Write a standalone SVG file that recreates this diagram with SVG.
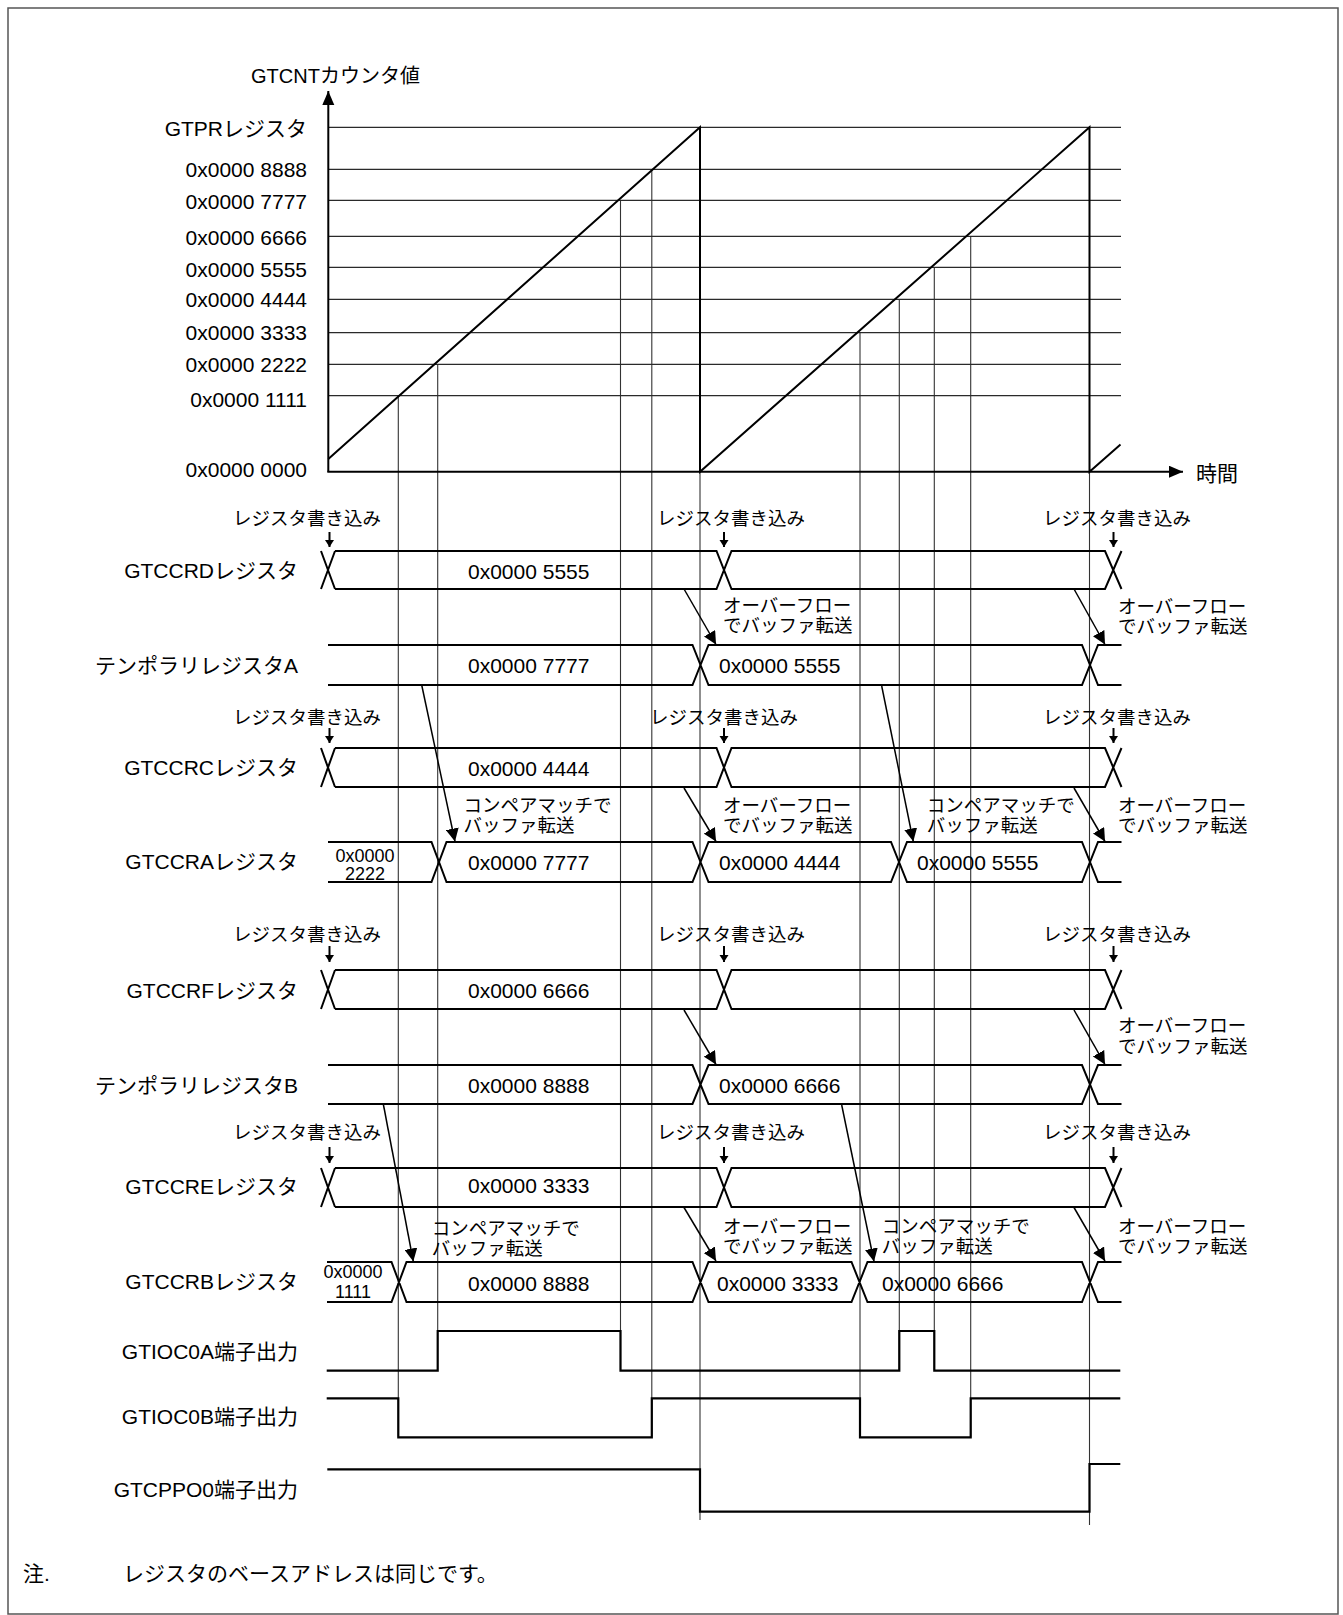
<svg xmlns="http://www.w3.org/2000/svg" width="1343" height="1615" viewBox="0 0 1343 1615">
<style>
text{font-family:"Liberation Sans","Noto Sans CJK JP",sans-serif;fill:#000}
.l{font-size:21px}
.t{font-size:20px}
.v{font-size:21px}
.s{font-size:18px}
.a{font-size:18.5px}
.end{text-anchor:end}
.mid{text-anchor:middle}
.bus{fill:none;stroke:#000;stroke-width:2}
.grid{stroke:#2a2a2a;stroke-width:1.3}
.guide{stroke:#333;stroke-width:1.1}
.ax{stroke:#000;stroke-width:2;fill:none}
.conn{stroke:#000;stroke-width:1.5;fill:none;marker-end:url(#ah)}
.wr{stroke:#000;stroke-width:2;fill:none;marker-end:url(#sh)}
.wave{fill:none;stroke:#000;stroke-width:2.2}
</style>
<defs>
<marker id="ah" markerUnits="userSpaceOnUse" markerWidth="13" markerHeight="13" refX="13" refY="6.5" orient="auto"><path d="M0,0 L13,6.5 L0,13 z" fill="#000"/></marker>
<marker id="sh" markerUnits="userSpaceOnUse" markerWidth="8" markerHeight="10" refX="7" refY="4.5" orient="auto"><path d="M0,0 L7,4.5 L0,9 z" fill="#000"/></marker>
<marker id="axh" markerUnits="userSpaceOnUse" markerWidth="15" markerHeight="13" refX="14" refY="6" orient="auto"><path d="M0,0 L14,6 L0,12 z" fill="#000"/></marker>
</defs>
<rect x="8" y="8" width="1330" height="1606" fill="#fff" stroke="#555" stroke-width="1.5"/>

<g id="guides">
<line class="guide" x1="398.3" y1="395.7" x2="398.3" y2="1437"/>
<line class="guide" x1="437.7" y1="364.3" x2="437.7" y2="1331"/>
<line class="guide" x1="620.5" y1="200.3" x2="620.5" y2="1370"/>
<line class="guide" x1="651.8" y1="169.3" x2="651.8" y2="1437"/>
<line class="guide" x1="860" y1="332.7" x2="860" y2="1437"/>
<line class="guide" x1="899.3" y1="299.3" x2="899.3" y2="1370"/>
<line class="guide" x1="934.3" y1="267.3" x2="934.3" y2="1370"/>
<line class="guide" x1="970.7" y1="236.3" x2="970.7" y2="1437"/>
<line class="guide" x1="700" y1="471.7" x2="700" y2="1520"/>
<line class="guide" x1="1089.5" y1="471.7" x2="1089.5" y2="1525"/>
</g>

<g id="chart">
<text class="t" x="251" y="82.5">GTCNTカウンタ値</text>
<text class="l" x="1196" y="481">時間</text>
<g class="grid">
<line x1="328" y1="127.3" x2="1121" y2="127.3"/>
<line x1="328" y1="169.3" x2="1121" y2="169.3"/>
<line x1="328" y1="200.3" x2="1121" y2="200.3"/>
<line x1="328" y1="236.3" x2="1121" y2="236.3"/>
<line x1="328" y1="267.3" x2="1121" y2="267.3"/>
<line x1="328" y1="299.3" x2="1121" y2="299.3"/>
<line x1="328" y1="332.7" x2="1121" y2="332.7"/>
<line x1="328" y1="364.3" x2="1121" y2="364.3"/>
<line x1="328" y1="395.7" x2="1121" y2="395.7"/>
</g>
<g class="l end">
<text x="307" y="135.5">GTPRレジスタ</text>
<text x="307" y="176.8">0x0000 8888</text>
<text x="307" y="208.5">0x0000 7777</text>
<text x="307" y="245">0x0000 6666</text>
<text x="307" y="276.5">0x0000 5555</text>
<text x="307" y="306.8">0x0000 4444</text>
<text x="307" y="339.5">0x0000 3333</text>
<text x="307" y="372.3">0x0000 2222</text>
<text x="307" y="406.5">0x0000 1111</text>
<text x="307" y="477">0x0000 0000</text>
</g>
<line class="ax" x1="328.3" y1="471.7" x2="328.3" y2="91" marker-end="url(#axh)"/>
<line class="ax" x1="327.3" y1="471.7" x2="1183" y2="471.7" marker-end="url(#axh)"/>
<path class="ax" d="M328.3,459 L700,127.3 L700,471.7 L1089.5,127.3 L1089.5,471.7 L1120.5,444.5"/>
</g>

<g id="row-gtccrd">
<text class="l end" x="298" y="578">GTCCRDレジスタ</text>
<path class="bus" d="M321,551 L335,589 M321,589 L335,551 M335,551 H716.5 L731.5,589 H1105 L1121.5,551 M335,589 H716.5 L731.5,551 H1105 L1121.5,589"/>
<text class="v" x="468" y="579">0x0000 5555</text>
</g>
<g id="row-tempa">
<text class="l end" x="298" y="672.5">テンポラリレジスタA</text>
<path class="bus" d="M328,645 H692.5 L708.5,685 H1082 L1098,645 H1121.5 M328,685 H692.5 L708.5,645 H1082 L1098,685 H1121.5"/>
<text class="v" x="468" y="672.5">0x0000 7777</text>
<text class="v" x="719" y="672.5">0x0000 5555</text>
</g>
<g id="row-gtccrc">
<text class="l end" x="298" y="775">GTCCRCレジスタ</text>
<path class="bus" d="M321,748 L335,787 M321,787 L335,748 M335,748 H716.5 L731.5,787 H1105 L1121.5,748 M335,787 H716.5 L731.5,748 H1105 L1121.5,787"/>
<text class="v" x="468" y="776">0x0000 4444</text>
</g>
<g id="row-gtccra">
<text class="l end" x="298" y="868.5">GTCCRAレジスタ</text>
<path class="bus" d="M328,842 H431.5 L446.5,882 H692.5 L708.5,842 H891 L907,882 H1082 L1098,842 H1121.5 M328,882 H431.5 L446.5,842 H692.5 L708.5,882 H891 L907,842 H1082 L1098,882 H1121.5"/>
<text class="s mid" x="365" y="861.5">0x0000</text>
<text class="s mid" x="365" y="879.5">2222</text>
<text class="v" x="468" y="870">0x0000 7777</text>
<text class="v" x="719" y="870">0x0000 4444</text>
<text class="v" x="917" y="870">0x0000 5555</text>
</g>
<g id="row-gtccrf">
<text class="l end" x="298" y="997.5">GTCCRFレジスタ</text>
<path class="bus" d="M321,970 L335,1009 M321,1009 L335,970 M335,970 H716.5 L731.5,1009 H1105 L1121.5,970 M335,1009 H716.5 L731.5,970 H1105 L1121.5,1009"/>
<text class="v" x="468" y="998">0x0000 6666</text>
</g>
<g id="row-tempb">
<text class="l end" x="298" y="1092.5">テンポラリレジスタB</text>
<path class="bus" d="M328,1065 H692.5 L708.5,1104 H1082 L1098,1065 H1121.5 M328,1104 H692.5 L708.5,1065 H1082 L1098,1104 H1121.5"/>
<text class="v" x="468" y="1092.5">0x0000 8888</text>
<text class="v" x="719" y="1092.5">0x0000 6666</text>
</g>
<g id="row-gtccre">
<text class="l end" x="298" y="1194">GTCCREレジスタ</text>
<path class="bus" d="M321,1168 L335,1207 M321,1207 L335,1168 M335,1168 H716.5 L731.5,1207 H1105 L1121.5,1168 M335,1207 H716.5 L731.5,1168 H1105 L1121.5,1207"/>
<text class="v" x="468" y="1193">0x0000 3333</text>
</g>
<g id="row-gtccrb">
<text class="l end" x="298" y="1289">GTCCRBレジスタ</text>
<path class="bus" d="M327,1262 H391.5 L406.5,1302 H692.5 L708.5,1262 H851.5 L867.5,1302 H1082 L1098,1262 H1121.5 M327,1302 H391.5 L406.5,1262 H692.5 L708.5,1302 H851.5 L867.5,1262 H1082 L1098,1302 H1121.5"/>
<text class="s mid" x="353" y="1278.3">0x0000</text>
<text class="s mid" x="353" y="1298">1111</text>
<text class="v" x="468" y="1291">0x0000 8888</text>
<text class="v" x="717" y="1291">0x0000 3333</text>
<text class="v" x="882" y="1291">0x0000 6666</text>
</g>
<g id="row-gtioc0a">
<text class="l end" x="298" y="1359">GTIOC0A端子出力</text>
<path class="wave" d="M326.7,1370.7 H437.7 V1331 H620.5 V1370.7 H899.3 V1331 H934.3 V1370.7 H1120.3"/>
</g>
<g id="row-gtioc0b">
<text class="l end" x="298" y="1424">GTIOC0B端子出力</text>
<path class="wave" d="M326.7,1398.3 H398.3 V1437.3 H651.8 V1398.3 H860 V1437.3 H970.7 V1398.3 H1120.3"/>
</g>
<g id="row-gtcppo0">
<text class="l end" x="298" y="1496.5">GTCPPO0端子出力</text>
<path class="wave" d="M327.3,1469.3 H700 V1511.7 H1089.5 V1464 H1120.3"/>
</g>

<g id="connectors">
<line class="conn" x1="684" y1="589" x2="716" y2="644.5"/>
<line class="conn" x1="1074" y1="589" x2="1105" y2="644.5"/>
<line class="conn" x1="421.7" y1="685" x2="455" y2="841.5"/>
<line class="conn" x1="881.7" y1="686" x2="913.3" y2="841.5"/>
<line class="conn" x1="684" y1="788" x2="716" y2="841.5"/>
<line class="conn" x1="1074" y1="788" x2="1105" y2="841.5"/>
<line class="conn" x1="684" y1="1010" x2="716" y2="1064.5"/>
<line class="conn" x1="1074" y1="1010" x2="1105" y2="1064.5"/>
<line class="conn" x1="383.3" y1="1104" x2="413.3" y2="1261.5"/>
<line class="conn" x1="841.7" y1="1105" x2="874" y2="1261.5"/>
<line class="conn" x1="684" y1="1207.5" x2="716" y2="1261"/>
<line class="conn" x1="1074" y1="1207.5" x2="1105" y2="1261"/>
<line class="wr" x1="329.5" y1="532" x2="329.5" y2="547"/>
<line class="wr" x1="724" y1="532" x2="724" y2="547"/>
<line class="wr" x1="1113.5" y1="532" x2="1113.5" y2="547"/>
<line class="wr" x1="329.5" y1="728" x2="329.5" y2="743"/>
<line class="wr" x1="724" y1="728" x2="724" y2="743"/>
<line class="wr" x1="1113.5" y1="728" x2="1113.5" y2="743"/>
<line class="wr" x1="329.5" y1="946" x2="329.5" y2="962"/>
<line class="wr" x1="724" y1="946" x2="724" y2="962"/>
<line class="wr" x1="1113.5" y1="946" x2="1113.5" y2="962"/>
<line class="wr" x1="329.5" y1="1147" x2="329.5" y2="1163"/>
<line class="wr" x1="724" y1="1147" x2="724" y2="1163"/>
<line class="wr" x1="1113.5" y1="1147" x2="1113.5" y2="1163"/>
</g>

<g id="annotations" class="a">
<text class="a" x="233" y="525">レジスタ書き込み</text>
<text class="a" x="657" y="525">レジスタ書き込み</text>
<text class="a" x="1043" y="525">レジスタ書き込み</text>
<text class="a" x="723" y="612">オーバーフロー</text>
<text class="a" x="723" y="632">でバッファ転送</text>
<text class="a" x="1118" y="613">オーバーフロー</text>
<text class="a" x="1118" y="633">でバッファ転送</text>
<text class="a" x="233" y="723.5">レジスタ書き込み</text>
<text class="a" x="650" y="723.5">レジスタ書き込み</text>
<text class="a" x="1043" y="723.5">レジスタ書き込み</text>
<text class="a" x="463.5" y="812">コンペアマッチで</text>
<text class="a" x="463.5" y="832">バッファ転送</text>
<text class="a" x="723" y="812">オーバーフロー</text>
<text class="a" x="723" y="832">でバッファ転送</text>
<text class="a" x="926.7" y="812">コンペアマッチで</text>
<text class="a" x="926.7" y="832">バッファ転送</text>
<text class="a" x="1118" y="812">オーバーフロー</text>
<text class="a" x="1118" y="832">でバッファ転送</text>
<text class="a" x="233" y="940.5">レジスタ書き込み</text>
<text class="a" x="657" y="940.5">レジスタ書き込み</text>
<text class="a" x="1043" y="940.5">レジスタ書き込み</text>
<text class="a" x="1118" y="1032">オーバーフロー</text>
<text class="a" x="1118" y="1053">でバッファ転送</text>
<text class="a" x="233" y="1138.5">レジスタ書き込み</text>
<text class="a" x="657" y="1138.5">レジスタ書き込み</text>
<text class="a" x="1043" y="1138.5">レジスタ書き込み</text>
<text class="a" x="431.7" y="1235">コンペアマッチで</text>
<text class="a" x="431.7" y="1255">バッファ転送</text>
<text class="a" x="723" y="1232.5">オーバーフロー</text>
<text class="a" x="723" y="1252.5">でバッファ転送</text>
<text class="a" x="881.7" y="1233">コンペアマッチで</text>
<text class="a" x="881.7" y="1253">バッファ転送</text>
<text class="a" x="1118" y="1232.5">オーバーフロー</text>
<text class="a" x="1118" y="1252.5">でバッファ転送</text>
</g>

<g id="note">
<text class="l" x="23" y="1581">注.</text>
<text class="l" x="123" y="1581">レジスタのベースアドレスは同じです。</text>
</g>
</svg>
